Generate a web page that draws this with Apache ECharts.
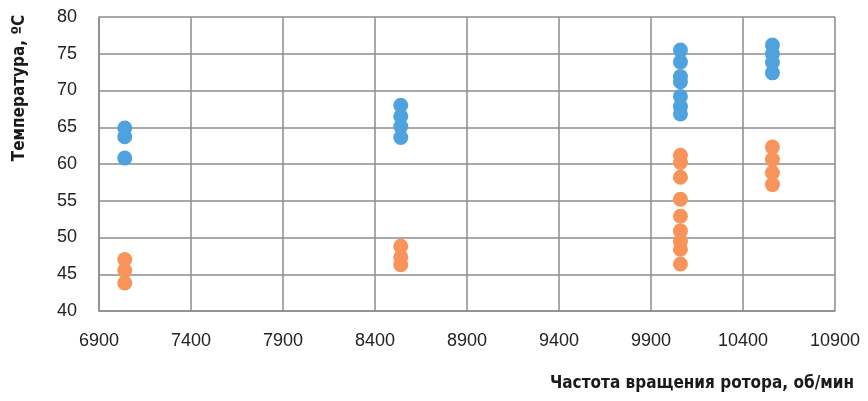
<!DOCTYPE html>
<html>
<head>
<meta charset="utf-8">
<script src="https://cdn.jsdelivr.net/npm/echarts@6/dist/echarts.min.js"></script>
<style>
  html, body { margin: 0; padding: 0; background: #fff; }
  #chart { width: 868px; height: 401px; }
</style>
</head>
<body>
<div id="chart"></div>
<script>
// Rotor speed, rpm (x) and measured temperatures, °C (y)
const speedGroups = [7040, 8540, 10060, 10560];
const tempHigh = [
  [64.9, 63.7, 60.8],
  [68.0, 66.5, 65.1, 63.6],
  [75.5, 73.9, 71.9, 71.2, 69.2, 67.8, 66.8],
  [76.2, 75.0, 73.8, 72.4]
];
const tempLow = [
  [47.0, 45.5, 43.8],
  [48.8, 47.3, 46.3],
  [61.2, 60.2, 58.2, 55.2, 52.9, 50.9, 49.5, 48.4, 46.4],
  [62.3, 60.6, 58.8, 57.2]
];
const xTicks = { min: 6900, max: 10900, step: 500 };
const yTicks = { min: 40, max: 80, step: 5 };
const xTitle = 'Частота вращения ротора, об/мин';
const yTitle = 'Температура, ºC';

function pairs(groups) {
  const out = [];
  groups.forEach((vals, i) => vals.forEach(v => out.push([speedGroups[i], v])));
  return out;
}

const TITLE_FONT = '"DejaVu Sans Condensed", "Liberation Sans", sans-serif';
const TICK_FONT = '"Liberation Sans", Arial, sans-serif';
const gridColor = '#8c8c8c';

const chart = echarts.init(document.getElementById('chart'), null, { renderer: 'canvas' });
chart.setOption({
  animation: false,
  backgroundColor: '#fff',
  grid: { left: 99, right: 33, top: 17, bottom: 90, containLabel: false },
  title: {
    text: xTitle,
    right: 9,
    bottom: 4,
    textStyle: { fontFamily: TITLE_FONT, fontSize: 17, fontWeight: 'bold', color: '#1a1a1a' }
  },
  graphic: [{
    type: 'text',
    x: 20,
    y: 88,
    rotation: Math.PI / 2,
    style: {
      text: yTitle,
      fontFamily: TITLE_FONT,
      fontSize: 17,
      fontWeight: 'bold',
      fill: '#1a1a1a',
      align: 'center',
      verticalAlign: 'middle'
    }
  }],
  xAxis: {
    type: 'value',
    min: xTicks.min,
    max: xTicks.max,
    interval: xTicks.step,
    axisLine: { show: true, lineStyle: { color: gridColor, width: 1.5 } },
    axisTick: { show: false },
    splitLine: { show: true, lineStyle: { color: gridColor, width: 1.5 } },
    axisLabel: {
      margin: 21, fontFamily: TICK_FONT, fontSize: 18, color: '#222',
      formatter: v => String(v)
    }
  },
  yAxis: {
    type: 'value',
    min: yTicks.min,
    max: yTicks.max,
    interval: yTicks.step,
    axisLine: { show: true, lineStyle: { color: gridColor, width: 1.5 } },
    axisTick: { show: false },
    splitLine: { show: true, lineStyle: { color: gridColor, width: 1.5 } },
    axisLabel: { margin: 22, fontFamily: TICK_FONT, fontSize: 18, color: '#222' }
  },
  series: [
    {
      type: 'scatter',
      data: pairs(tempHigh),
      symbolSize: 15,
      itemStyle: { color: '#4fa2de', opacity: 1 }
    },
    {
      type: 'scatter',
      data: pairs(tempLow),
      symbolSize: 15,
      itemStyle: { color: '#f8945a', opacity: 1 }
    }
  ]
});
</script>
</body>
</html>
